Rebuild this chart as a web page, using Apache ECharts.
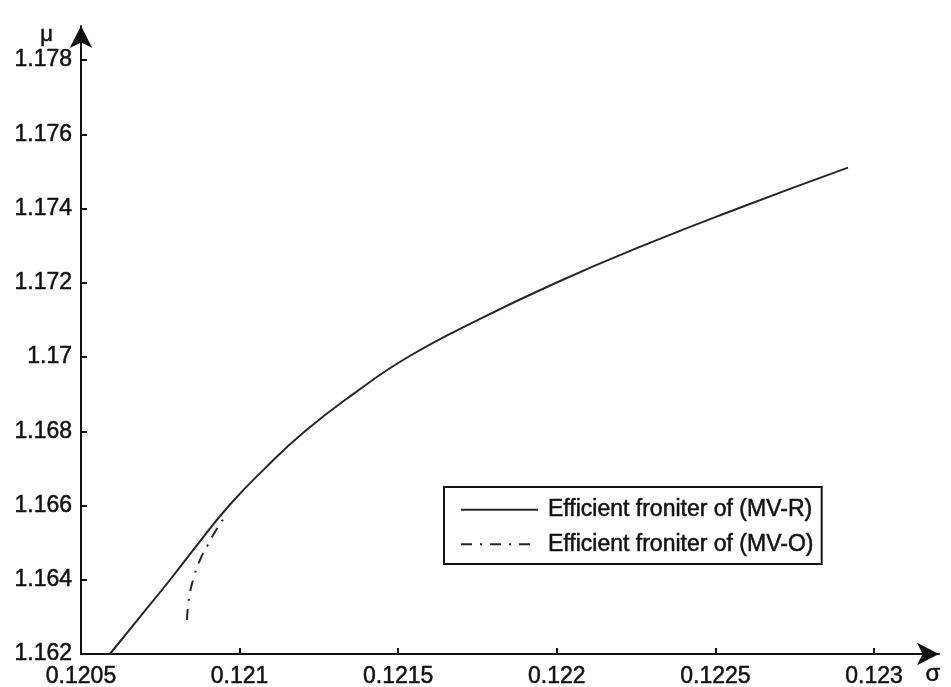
<!DOCTYPE html>
<html>
<head>
<meta charset="utf-8">
<script src="https://cdn.jsdelivr.net/npm/echarts@6/dist/echarts.min.js"></script>
<style>
html,body{margin:0;padding:0;background:#fff;}
#chart{width:951px;height:687px;}
</style>
</head>
<body>
<div id="chart"></div>
<script>
// Tick labels
const sigmaTicks = [0.1205, 0.121, 0.1215, 0.122, 0.1225, 0.123];
const muTicks = [1.162, 1.164, 1.166, 1.168, 1.17, 1.172, 1.174, 1.176, 1.178];

// Series names
const seriesNames = ['Efficient froniter of (MV-R)', 'Efficient froniter of (MV-O)'];

// Efficient frontier (MV-R): sigma and mu values
const mvrSigma = [0.120591, 0.120686, 0.120781, 0.120872, 0.120967, 0.121080, 0.121206, 0.121358, 0.121531, 0.121752, 0.121998, 0.122272, 0.122571, 0.122918];
const mvrMu    = [1.1620,   1.1630,   1.1640,   1.1650,   1.1660,   1.1670,   1.1680,   1.1690,   1.1700,   1.1710,   1.1720,   1.1730,   1.1740,   1.17510];

// Efficient frontier (MV-O): sigma and mu values
const mvoSigma = [0.120834, 0.120840, 0.120853, 0.120875, 0.120900, 0.120926, 0.120950];
const mvoMu    = [1.16292,  1.16346,  1.16399,  1.16453,  1.16494,  1.16534,  1.16565];

const pair = (xs, ys) => xs.map((x, i) => [x, ys[i]]);

const FONT = 'Liberation Sans, Arial, Helvetica, sans-serif';
const INK = '#111111';
const heavy = {textBorderColor: INK, textBorderWidth: 0.5};

const chart = echarts.init(document.getElementById('chart'), null, {renderer: 'canvas'});
chart.setOption({
  animation: false,
  backgroundColor: '#ffffff',
  grid: {left: 81, right: 12, top: 26, bottom: 33, containLabel: false, outerBoundsMode: 'none'},
  xAxis: {
    type: 'value',
    min: 0.1205,
    max: 0.123205,
    name: 'σ',
    nameLocation: 'end',
    nameGap: -6,
    nameTextStyle: Object.assign({fontFamily: FONT, fontSize: 24, color: INK, align: 'center', verticalAlign: 'top', padding: [8, 0, 0, 0]}, heavy),
    axisLine: {show: true, lineStyle: {color: INK, width: 2}, symbol: ['none', 'arrow'], symbolSize: [17, 22]},
    axisTick: {show: true, inside: true, length: 6, lineStyle: {color: INK, width: 2}, customValues: sigmaTicks},
    axisLabel: Object.assign({fontFamily: FONT, fontSize: 23, color: INK, margin: 11, customValues: sigmaTicks,
      formatter: v => String(v)}, heavy),
    splitLine: {show: false}
  },
  yAxis: {
    type: 'value',
    min: 1.162,
    max: 1.178916,
    name: 'μ',
    nameLocation: 'end',
    nameGap: -9,
    nameTextStyle: Object.assign({fontFamily: FONT, fontSize: 22, color: INK, align: 'right', verticalAlign: 'middle', padding: [0, 28, 0, 0]}, heavy),
    axisLine: {show: true, lineStyle: {color: INK, width: 2}, symbol: ['none', 'arrow'], symbolSize: [17, 22]},
    axisTick: {show: true, inside: true, length: 6, lineStyle: {color: INK, width: 2}, customValues: muTicks},
    axisLabel: Object.assign({fontFamily: FONT, fontSize: 23, color: INK, margin: 9, customValues: muTicks,
      formatter: v => String(v)}, heavy),
    splitLine: {show: false}
  },
  legend: {
    show: true,
    orient: 'vertical',
    left: 444,
    top: 487,
    padding: [11, 8, 8, 16],
    itemWidth: 77,
    itemHeight: 14,
    itemGap: 11,
    borderColor: INK,
    borderWidth: 2,
    borderRadius: 0,
    backgroundColor: '#ffffff',
    itemStyle: {opacity: 0},
    textStyle: Object.assign({fontFamily: FONT, fontSize: 23, color: INK, padding: [0, 0, 0, 5]}, heavy),
    data: seriesNames
  },
  series: [
    {
      name: seriesNames[0],
      type: 'line',
      data: pair(mvrSigma, mvrMu),
      smooth: 0.5,
      symbol: 'none',
      lineStyle: {color: '#262626', width: 2, type: 'solid'},
      itemStyle: {color: '#262626'}
    },
    {
      name: seriesNames[1],
      type: 'line',
      data: pair(mvoSigma, mvoMu),
      smooth: 0.5,
      symbol: 'none',
      lineStyle: {color: '#262626', width: 2, type: [11, 8, 2, 8]},
      itemStyle: {color: '#262626'}
    }
  ]
});
</script>
</body>
</html>
